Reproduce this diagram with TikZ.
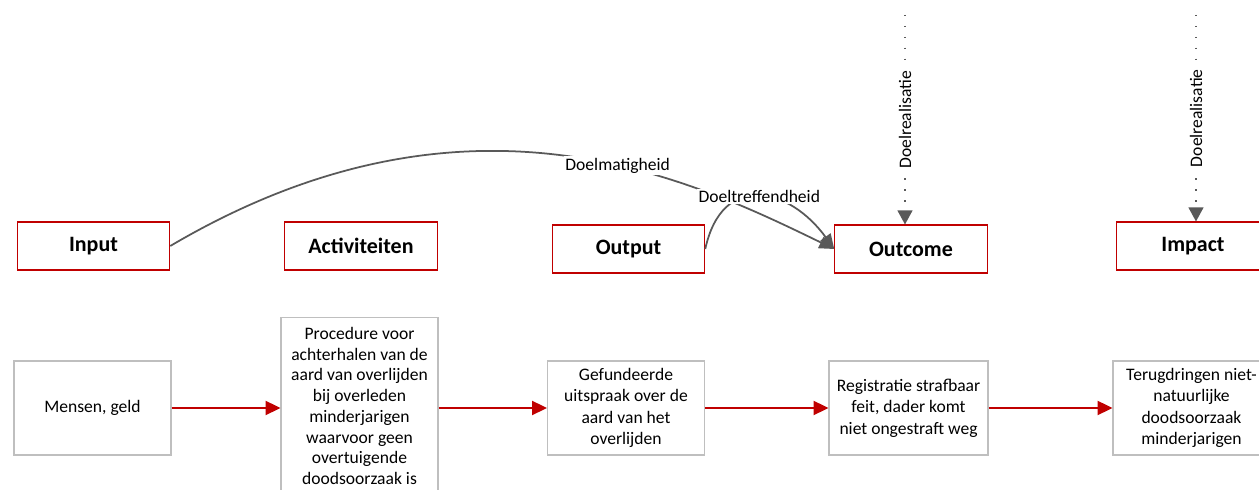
\documentclass[tikz,border=0pt]{standalone}
\usepackage{fontspec}
\setmainfont{Carlito}
\usetikzlibrary{arrows.meta}

\definecolor{boxred}{HTML}{C00000}
\definecolor{boxgray}{HTML}{BFBFBF}
\definecolor{linegray}{HTML}{595959}

\tikzset{
	topbox/.style={draw=boxred, line width=0.6pt, minimum width=3.05cm, minimum height=0.96cm, font=\fontsize{12.5}{15}\selectfont\bfseries},
	flowbox/.style={draw=boxgray, line width=0.6pt, minimum width=3.14cm, minimum height=1.88cm, align=center, inner sep=2pt, font=\fontsize{10}{12.2}\selectfont},
	redarrow/.style={draw=boxred, line width=1.1pt, -{Triangle[length=8.5pt,width=8pt]}},
	grayline/.style={draw=linegray, line width=1pt, -{Triangle[length=8.5pt,width=7pt]}},
	dotline/.style={draw=linegray, line width=0.8pt, dash pattern=on 0.8pt off 5.4pt, -{Triangle[length=8pt,width=8.5pt]}},
	edgelabel/.style={fill=white, inner sep=1pt, font=\fontsize{10}{12}\selectfont}
}

\begin{document}
\begin{tikzpicture}[x=0.02cm,y=0.02cm]
		\useasboundingbox(0,0)rectangle(1259,490);
		\clip(0,0)rectangle(1259,490);
		% bovenste rij
		\node[topbox](input)at(93.5,244){Input};
		\node[topbox](activ)at(361,244){Activiteiten};
		\node[topbox](output)at(628.5,241){Output};
		\node[topbox](outcome)at(911,241){Outcome};
		\node[topbox](impact)at(1193,244){Impact};
		% onderste rij
		\node[flowbox](mensen)at(92.5,82){Mensen, geld};
		\node[flowbox,anchor=north,inner sep=4pt,inner ysep=5.5pt,minimum height=0pt,font=\fontsize{10}{11.8}\selectfont](proc)at(359.5,173){Procedure voor\\achterhalen van de\\aard van overlijden\\bij overleden\\minderjarigen\\waarvoor geen\\overtuigende\\doodsoorzaak is};
		\node[flowbox](uitspraak)at(626,82){Gefundeerde\\uitspraak over de\\aard van het\\overlijden};
		\node[flowbox,minimum width=3.18cm](registratie)at(908.5,82){Registratie strafbaar\\feit, dader komt\\niet ongestraft weg};
		\node[flowbox](terug)at(1191.5,82){Terugdringen niet-\\natuurlijke\\doodsoorzaak\\minderjarigen};
		\draw[redarrow](mensen.east)--(mensen.east -| proc.west);
		\draw[redarrow](mensen.east -| proc.east)--(uitspraak.west);
		\draw[redarrow](uitspraak.east)--(registratie.west);
		\draw[redarrow](registratie.east)--(terug.west);
		% doelmatigheid en doeltreffendheid
		\draw[grayline](input.east).. controls +(297,175) and +(-144,70) ..(outcome.west)node[edgelabel,pos=0.59]{Doelmatigheid};
		\draw[grayline](output.east).. controls +(17,78) and +(-45,62) ..(outcome.west)node[edgelabel,pos=0.5]{Doeltreffendheid};
		% doelrealisatie
		\coordinate(dr1)at(905,475);
		\coordinate(dr2)at(1196,475);
		\draw[dotline](dr1)--(dr1 |- outcome.north)node[edgelabel,midway,rotate=90]{Doelrealisatie};
		\draw[dotline](dr2)--(dr2 |- impact.north)node[edgelabel,midway,rotate=90]{Doelrealisatie};
	\end{tikzpicture}
\end{document}
